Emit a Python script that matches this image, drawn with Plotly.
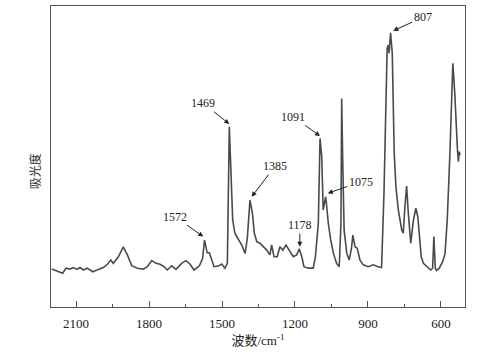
import plotly.graph_objects as go

wavenumber = [2200, 2179, 2155, 2141, 2125, 2111, 2097, 2084, 2070, 2054, 2031, 2008, 1988, 1971,
              1957, 1947, 1926, 1906, 1889, 1871, 1848, 1823, 1807, 1789, 1771, 1755, 1738, 1725,
              1707, 1689, 1666, 1648, 1631, 1615, 1593, 1580, 1572, 1561, 1552, 1542, 1533, 1515,
              1501, 1488, 1478, 1470, 1463, 1456, 1447, 1433, 1419, 1405, 1396, 1385, 1375, 1367,
              1357, 1344, 1330, 1316, 1303, 1296, 1286, 1273, 1262, 1250, 1237, 1223, 1207, 1193,
              1182, 1172, 1163, 1145, 1125, 1116, 1112, 1108, 1104, 1097, 1090, 1084, 1079, 1074,
              1070, 1063, 1053, 1042, 1029, 1018, 1011, 1008, 1004, 998, 987, 977, 967, 962, 953,
              944, 933, 919, 899, 878, 858, 844, 834, 826, 821, 816, 813, 807, 800, 796, 792, 785,
              775, 761, 755, 748, 741, 734, 724, 713, 703, 695, 688, 681, 672, 658, 642, 634, 629,
              623, 618, 607, 593, 583, 574, 563, 556, 551, 543, 536, 532, 528, 525, 521]
absorbance = [0.126, 0.120, 0.112, 0.129, 0.126, 0.131, 0.125, 0.131, 0.123, 0.129, 0.117, 0.125,
              0.131, 0.142, 0.156, 0.145, 0.167, 0.200, 0.173, 0.137, 0.129, 0.126, 0.134, 0.154,
              0.145, 0.142, 0.134, 0.123, 0.137, 0.125, 0.145, 0.154, 0.142, 0.123, 0.137, 0.160,
              0.222, 0.180, 0.180, 0.156, 0.134, 0.136, 0.143, 0.129, 0.145, 0.599, 0.433, 0.289,
              0.245, 0.223, 0.206, 0.178, 0.228, 0.355, 0.311, 0.245, 0.217, 0.212, 0.200, 0.189,
              0.173, 0.206, 0.167, 0.167, 0.200, 0.189, 0.206, 0.189, 0.167, 0.173, 0.193, 0.167,
              0.134, 0.129, 0.129, 0.167, 0.200, 0.234, 0.278, 0.560, 0.499, 0.322, 0.345, 0.366,
              0.339, 0.278, 0.223, 0.178, 0.145, 0.134, 0.278, 0.693, 0.499, 0.256, 0.178, 0.156,
              0.200, 0.239, 0.200, 0.195, 0.156, 0.140, 0.134, 0.140, 0.134, 0.131, 0.380, 0.650,
              0.860, 0.870, 0.843, 0.911, 0.843, 0.677, 0.511, 0.400, 0.322, 0.256, 0.245, 0.333,
              0.402, 0.311, 0.212, 0.289, 0.328, 0.300, 0.234, 0.167, 0.145, 0.134, 0.123, 0.129,
              0.234, 0.129, 0.121, 0.129, 0.150, 0.178, 0.289, 0.511, 0.732, 0.810, 0.710, 0.566,
              0.522, 0.483, 0.516, 0.505]

peak_labels = ["1572", "1469", "1385", "1178", "1091", "1075", "807"]
peak_tip_x = [1577, 1470, 1378, 1180, 1097, 1065, 796]
peak_tip_y = [0.234, 0.608, 0.366, 0.200, 0.568, 0.378, 0.918]
label_x = [1693, 1577, 1282, 1180, 1207, 930, 675]
label_y = [0.300, 0.677, 0.468, 0.272, 0.632, 0.416, 0.962]

x_ticks = [2100, 1800, 1500, 1200, 900, 600]

serif = "Liberation Serif, Times New Roman, Noto Sans CJK SC, serif"

fig = go.Figure()
fig.add_trace(go.Scatter(x=wavenumber, y=absorbance, mode="lines",
                         line=dict(color="#4a4a4a", width=1.6), showlegend=False))

for t, tx, ty, lx, ly in zip(peak_labels, peak_tip_x, peak_tip_y, label_x, label_y):
    fig.add_annotation(x=tx, y=ty, ax=lx, ay=ly, axref="x", ayref="y", xref="x", yref="y",
                       text=t, showarrow=True, arrowhead=2, arrowsize=1, arrowwidth=1,
                       arrowcolor="#222222", font=dict(family=serif, size=12, color="#222222"))

fig.add_annotation(x=-0.038, y=0.452, xref="paper", yref="paper", text="吸光度",
                   xanchor="center", yanchor="middle",
                   textangle=-90, showarrow=False,
                   font=dict(family="Noto Sans CJK SC", size=12, color="#333333"))

fig.update_xaxes(range=[2203, 501], tickvals=x_ticks, ticktext=[str(v) for v in x_ticks],
                 ticks="inside", ticklen=6, tickwidth=1, tickcolor="#555555",
                 ticklabelstandoff=4,
                 minor=dict(ticks="inside", ticklen=3, dtick=150, tick0=600, tickcolor="#555555"),
                 showline=True, linecolor="#555555", linewidth=1, mirror=True,
                 showgrid=False, zeroline=False,
                 tickfont=dict(family=serif, size=13, color="#222222"),
                 title=dict(text="波数/cm<sup>-1</sup>", standoff=6,
                            font=dict(family=serif, size=13, color="#222222")))
fig.update_yaxes(range=[0, 1], showticklabels=False, ticks="", showline=True,
                 linecolor="#555555", linewidth=1, mirror=True, showgrid=False, zeroline=False)

fig.update_layout(width=497, height=357, margin=dict(l=51, r=32, t=6, b=50),
                  plot_bgcolor="white", paper_bgcolor="white")

fig.write_html("out.html", config={"displayModeBar": False},
               post_script="document.body.style.margin='0';")
